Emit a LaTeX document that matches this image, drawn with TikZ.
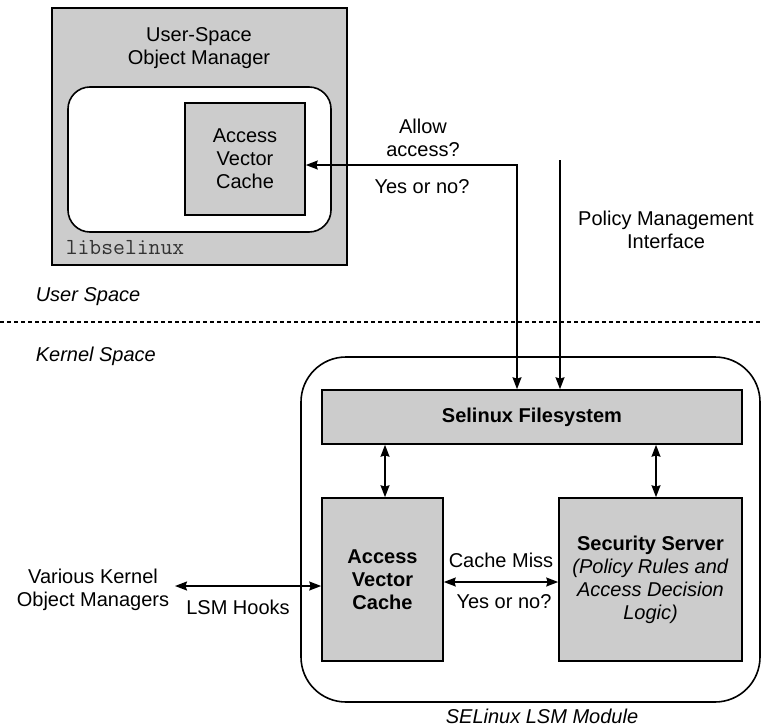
\documentclass[tikz,border=0pt]{standalone}
\usepackage{fontspec}
\setmainfont{Liberation Sans}
\usetikzlibrary{arrows.meta,calc,positioning}
\definecolor{boxgray}{HTML}{CCCCCC}

\begin{document}
\begin{tikzpicture}[x=1pt,y=-1pt,line width=1.6pt,
  every node/.style={inner sep=0pt,font=\fontsize{20}{23}\selectfont,align=center},
  box/.style={draw,fill=boxgray},
  label text/.style={anchor=base},
  >={Stealth[length=12pt,width=9pt,inset=1.5pt]}]
\useasboundingbox (0,0) rectangle (761,728);
% user space
\node[box,minimum width=295pt,minimum height=257pt] (usom) at (199.5,136.5) {};
\node (usomt) at (199,48) {User-Space\\Object Manager};
\draw[fill=white,rounded corners=22pt] (68,87) rectangle (331,232);
\node[box,minimum width=120pt,minimum height=112pt] (uavc) at (245,159) {Access\\Vector\\Cache};
\node[label text,anchor=base west,font=\fontsize{23}{26}\ttfamily,text=black!80] (lib) at (65,254) {libselinux};
\node[label text,anchor=base west,font=\fontsize{20}{23}\itshape] (us) at (35,301) {User Space};
\draw[line width=1.2pt,dash pattern=on 4pt off 3pt] (0,322) -- (761,322);
\node[label text,anchor=base west,font=\fontsize{20}{23}\itshape] (ks) at (35,361) {Kernel Space};
% kernel module
\draw[rounded corners=45pt] (301,357) rectangle (760,702);
\node[label text,font=\fontsize{20}{23}\itshape] (mod) at (542,723) {SELinux LSM Module};
\node[box,minimum width=420pt,minimum height=54pt,font=\fontsize{20}{23}\bfseries] (fs) at (532,417) {Selinux Filesystem};
\node[box,minimum width=121pt,minimum height=163pt,font=\fontsize{20}{23}\bfseries] (kavc) at (382.5,579.5) {Access\\Vector\\Cache};
\node[box,minimum width=183pt,minimum height=163pt] (ss) at (650.5,579.5) {\textbf{Security Server}\\\textit{(Policy Rules and}\\\textit{Access Decision}\\\textit{Logic)}};
\node (vkom) at (93,590) {Various Kernel\\Object Managers};
% labels on connectors
\node (allow) at (423,138) {Allow\\access?};
\node[label text] (yn1) at (422,193) {Yes or no?};
\node (pmi) at (666,230) {Policy Management\\Interface};
\node[label text] (miss) at (501,567) {Cache Miss};
\node[label text] (yn2) at (504,608) {Yes or no?};
\node[label text] (hooks) at (238,614) {LSM Hooks};
% connectors
\coordinate (q) at (517,165);
\coordinate (p) at (560,160);
\coordinate (h) at (175,586);
\draw[<->] (uavc.east |- q) -- (q) -- (fs.north -| q);
\draw[->] (p) -- (fs.north -| p);
\foreach \x in {385,656}
  \draw[<->] (fs.south -| \x,0) -- (kavc.north -| \x,0);
\draw[<->] (kavc.east |- 0,582) -- (ss.west |- 0,582);
\draw[<->] (h) -- (kavc.west |- h);
\end{tikzpicture}
\end{document}
